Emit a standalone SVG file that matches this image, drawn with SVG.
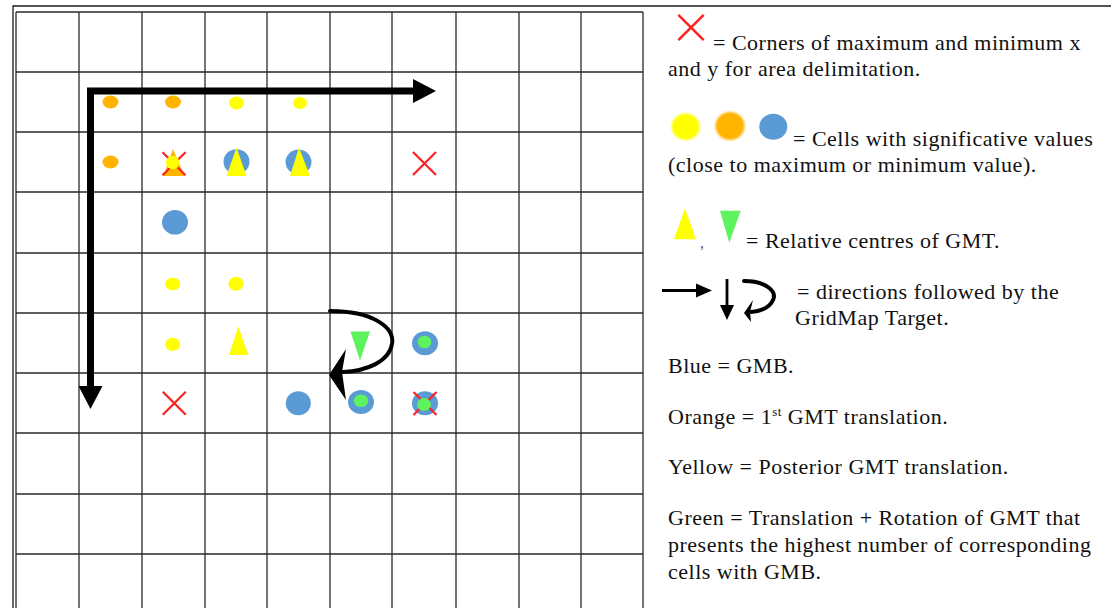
<svg xmlns="http://www.w3.org/2000/svg" xmlns:xlink="http://www.w3.org/1999/xlink" width="1111" height="608" viewBox="0 0 1111 608">
  <style>
    .grid { stroke: #2a2a2a; stroke-width: 1.3; fill: none; }
    .frame { stroke: #1a1a1a; stroke-width: 1.3; fill: none; }
    .txt { font-family: "Liberation Serif", "Times New Roman", serif; font-size: 22px; fill: #111111; letter-spacing: 0.5px; }
    .cross { stroke: #ff1f1f; stroke-width: 2.2; fill: none; }
    .blue { fill: #5b9bd5; }
    .green { fill: #5ef25e; }
    .yellow { fill: #ffff00; }
    .orange { fill: #ffb400; }
    .path-thick { stroke: #000; stroke-width: 7; fill: none; stroke-linejoin: miter; }
    .path-curve { stroke: #000; stroke-width: 4; fill: none; stroke-linecap: round; }
    .path-thin { stroke: #000; stroke-width: 2.8; fill: none; }
  </style>
  <defs>
    <!-- red corner cross, centred on the origin -->
    <g id="xmark">
      <path class="cross" d="M-11.5,-11.5 L11.5,11.5 M11.5,-11.5 L-11.5,11.5"/>
    </g>
    <marker id="bighead" viewBox="0 0 24 24" refX="1" refY="12" markerWidth="24" markerHeight="24" markerUnits="userSpaceOnUse" orient="auto-start-reverse">
      <path d="M0,0 L23,12 L0,24 Z" fill="#000"/>
    </marker>
    <filter id="soft" x="-30%" y="-30%" width="160%" height="160%">
      <feGaussianBlur stdDeviation="1.3"/>
    </filter>
  </defs>

  <rect width="1111" height="608" fill="#ffffff"/>

  <!-- outer frame -->
  <g id="frame">
    <path class="frame" d="M13,608 V6 H1111"/>
  </g>

  <!-- 10 x 10 grid -->
  <g id="grid">
    <path class="grid" d="M16,12 V608 M79,12 V608 M142,12 V608 M205,12 V608 M267,12 V608 M330,12 V608 M392,12 V608 M456,12 V608 M519,12 V608 M581,12 V608 M643,12 V608"/>
    <path class="grid" d="M16,12 H643 M16,72 H643 M16,132 H643 M16,192 H643 M16,253 H643 M16,313 H643 M16,373 H643 M16,433 H643 M16,494 H643 M16,554 H643"/>
  </g>

  <!-- cell markers -->
  <g id="cell-r1c1"><ellipse class="orange" cx="110.5" cy="102" rx="8" ry="6.5"/></g>
  <g id="cell-r1c2"><ellipse class="orange" cx="173" cy="102" rx="8" ry="6.5"/></g>
  <g id="cell-r1c3"><ellipse class="yellow" cx="236.5" cy="103" rx="7.5" ry="6.5"/></g>
  <g id="cell-r1c4"><ellipse class="yellow" cx="300" cy="103" rx="7" ry="6"/></g>
  <g id="cell-r2c1"><ellipse class="orange" cx="110.5" cy="162" rx="8" ry="6.5"/></g>
  <g id="cell-r2c2">
    <polygon class="orange" points="173,149 163.5,176 184.5,176"/>
    <use xlink:href="#xmark" x="174" y="163.8"/>
    <circle class="yellow" cx="172.7" cy="162.5" r="6.8"/>
  </g>
  <g id="cell-r2c3">
    <ellipse class="blue" cx="236.5" cy="161.7" rx="13" ry="12.5"/>
    <polygon class="yellow" points="236.5,147.5 226.5,176 246.5,176"/>
  </g>
  <g id="cell-r2c4">
    <ellipse class="blue" cx="298.5" cy="162" rx="13" ry="12.5"/>
    <polygon class="yellow" points="299,147.5 290,176 310,176"/>
  </g>
  <g id="cell-r2c6"><use xlink:href="#xmark" x="424.5" y="163.5"/></g>
  <g id="cell-r3c2"><ellipse class="blue" cx="175" cy="222.3" rx="13" ry="12.3"/></g>
  <g id="cell-r4c2"><ellipse class="yellow" cx="172.7" cy="284" rx="7.5" ry="6.5"/></g>
  <g id="cell-r4c3"><ellipse class="yellow" cx="236" cy="283.7" rx="7.5" ry="7"/></g>
  <g id="cell-r5c2"><ellipse class="yellow" cx="172.7" cy="344.3" rx="7.5" ry="6.5"/></g>
  <g id="cell-r5c3"><polygon class="yellow" points="238.3,326.5 229,355 248.3,355"/></g>
  <g id="cell-r5c5"><polygon class="green" points="350.5,331.5 370,331.5 360,360.5"/></g>
  <g id="cell-r5c6">
    <ellipse class="blue" cx="425" cy="343.3" rx="13" ry="12"/>
    <ellipse class="green" cx="424.5" cy="342" rx="6.8" ry="6.3"/>
  </g>
  <g id="cell-r6c2"><use xlink:href="#xmark" x="174.3" y="403.3"/></g>
  <g id="cell-r6c4"><ellipse class="blue" cx="298.3" cy="403.3" rx="12.5" ry="12"/></g>
  <g id="cell-r6c5">
    <ellipse class="blue" cx="361" cy="402" rx="13" ry="12"/>
    <ellipse class="green" cx="361" cy="400.7" rx="7.3" ry="6.3"/>
  </g>
  <g id="cell-r6c6">
    <ellipse class="blue" cx="425" cy="403.3" rx="13" ry="12"/>
    <use xlink:href="#xmark" x="425" y="403.5"/>
    <ellipse class="green" cx="424" cy="404.5" rx="7" ry="6.5"/>
  </g>

  <!-- scan directions drawn over the grid -->
  <g id="connectors">
    <path class="path-thick" d="M90.5,387 V91 H414" marker-start="url(#bighead)" marker-end="url(#bighead)"/>
    <path class="path-curve" d="M330,311 C372,311 395,327 392,344 C389,362 366,371 343,372"/>
    <polygon points="329,375 346,349 342,372 346,400" fill="#000"/>
  </g>

  <!-- legend -->
  <g id="legend-corners">
    <use xlink:href="#xmark" x="691" y="27.5" transform="translate(691 27.5) scale(1.1) translate(-691 -27.5)"/>
    <text class="txt" x="713" y="50">= Corners of maximum and minimum x</text>
    <text class="txt" x="668" y="76">and y for area delimitation.</text>
  </g>
  <g id="legend-cells">
    <ellipse class="yellow" cx="685.7" cy="126.7" rx="14" ry="13.3" filter="url(#soft)"/>
    <ellipse class="orange" cx="730" cy="126" rx="14.5" ry="14" filter="url(#soft)"/>
    <ellipse class="blue" cx="773.3" cy="126.7" rx="14" ry="13"/>
    <text class="txt" x="793" y="146">= Cells with significative values</text>
    <text class="txt" x="668" y="172">(close to maximum or minimum value).</text>
  </g>
  <g id="legend-centres">
    <polygon class="yellow" points="685,208.3 674,239.3 696,239.3"/>
    <text x="700" y="248" font-family="Liberation Serif, serif" font-size="16" fill="#4a5a7a">,</text>
    <polygon class="green" points="720,210.7 740.7,210.7 729.3,242.7"/>
    <text class="txt" x="746" y="248">= Relative centres of GMT.</text>
  </g>
  <g id="legend-directions">
    <path class="path-thin" d="M662,290.5 H698"/>
    <polygon points="696,283.5 712,290.5 696,297.5" fill="#000"/>
    <path class="path-thin" d="M727,279 V307"/>
    <polygon points="720,305 734,305 727,320" fill="#000"/>
    <path class="path-curve" stroke-width="3.6" d="M744,281 C767,281 777,292 773,300 C770,307 761,311 751,312"/>
    <polygon points="744,313 753,300 750,312 751,322" fill="#000"/>
    <text class="txt" x="797" y="299">= directions followed by the</text>
    <text class="txt" x="795" y="325">GridMap Target.</text>
  </g>
  <g id="legend-colours">
    <text class="txt" x="668" y="373">Blue = GMB.</text>
    <text class="txt" x="668" y="424">Orange = 1<tspan font-size="13" dy="-8">st</tspan><tspan dy="8"> GMT translation.</tspan></text>
    <text class="txt" x="668" y="474">Yellow = Posterior GMT translation.</text>
    <text class="txt" x="668" y="525">Green = Translation + Rotation of GMT that</text>
    <text class="txt" x="668" y="552">presents the highest number of corresponding</text>
    <text class="txt" x="668" y="579">cells with GMB.</text>
  </g>
</svg>
